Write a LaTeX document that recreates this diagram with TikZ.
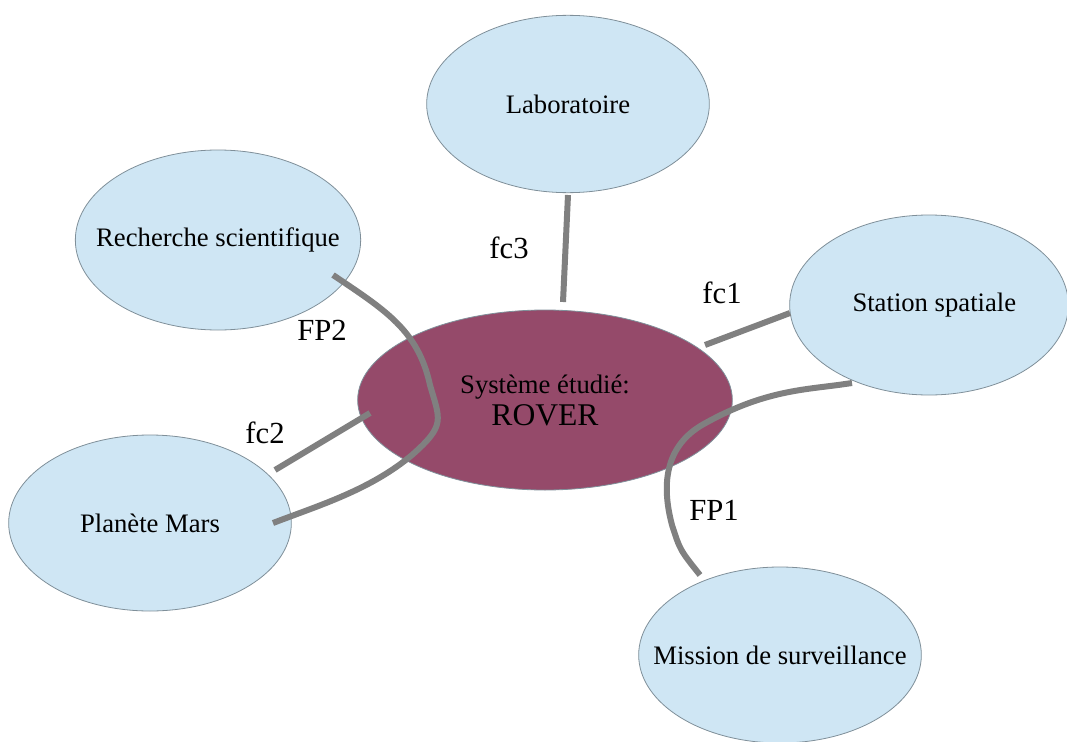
\documentclass[tikz,border=0pt]{standalone}
\usepackage{fontspec}
\setmainfont{Liberation Serif}
\usetikzlibrary{shapes.geometric}
\definecolor{bulle}{HTML}{CFE6F4}
\definecolor{rover}{HTML}{954A6A}
\definecolor{trait}{HTML}{808080}
\definecolor{bord}{HTML}{7F8F99}
\begin{document}
\begin{tikzpicture}[x=0.75pt, y=-0.75pt,
    milieu/.style={ellipse, draw=bord, line width=0.6pt, fill=bulle, minimum width=212pt, minimum height=133pt, inner xsep=-25pt, inner ysep=0pt, font=\fontsize{20}{24}\selectfont},
    systeme/.style={ellipse, draw=bord, line width=0.6pt, fill=rover, minimum width=281pt, minimum height=135pt, inner sep=0pt, align=center, font=\fontsize{20}{24}\selectfont},
    liaison/.style={draw=trait, line width=4.5pt},
    etiquette/.style={inner sep=0pt, font=\fontsize{23}{27}\selectfont}
]
    \useasboundingbox (0,0) rectangle (1067,742);

    \node[milieu] at (568,104) (labo) {Laboratoire};
    \node[milieu, minimum width=214pt, minimum height=135pt] at (218,240) (recherche) {Recherche scientifique};
    \node[milieu, minimum width=209pt, minimum height=135pt] at (929,305) (station) {\hspace{8pt}Station spatiale};
    \node[systeme] at (545,400) (sys) {Système étudié:\\{\fontsize{23.7}{28}\selectfont ROVER}};
    \node[milieu, minimum height=132pt] at (150,523) (mars) {Planète Mars};
    \node[milieu, minimum height=132pt] at (780,655) (mission) {Mission de surveillance};

    % bouts des traits
    \coordinate (fc3a) at (568,195);
    \coordinate (fc3b) at (563,302);
    \coordinate (fc1a) at (705,345);
    \coordinate (fc1b) at (790,313);
    \coordinate (fc2a) at (275,470);
    \coordinate (fc2b) at (370,413);
    \coordinate (fp2a) at (333,275);
    \coordinate (fp2b) at (273,523);
    \coordinate (fp1a) at (852,383);
    \coordinate (fp1b) at (700,575);

    \draw[liaison] (fc3a) -- (fc3b);
    \draw[liaison] (fc1a) -- (fc1b);
    \draw[liaison] (fc2a) -- (fc2b);
    \draw[liaison] (fp2a) .. controls (385,310) and (418,330) .. (430,385)
        .. controls (440,420) and (446,425) .. (412,455)
        .. controls (370,490) and (320,505) .. (fp2b);
    \draw[liaison] (fp1a) -- (838,385) .. controls (800,390) and (760,392) .. (702,425)
        .. controls (668,445) and (660,480) .. (672,525)
        .. controls (680,550) .. (fp1b);

    \node[etiquette] at (509,248) (lfc3) {fc3};
    \node[etiquette] at (722,293) (lfc1) {fc1};
    \node[etiquette] at (265,433) (lfc2) {fc2};
    \node[etiquette] at (322,330) (lfp2) {FP2};
    \node[etiquette] at (714,510) (lfp1) {FP1};
\end{tikzpicture}
\end{document}
